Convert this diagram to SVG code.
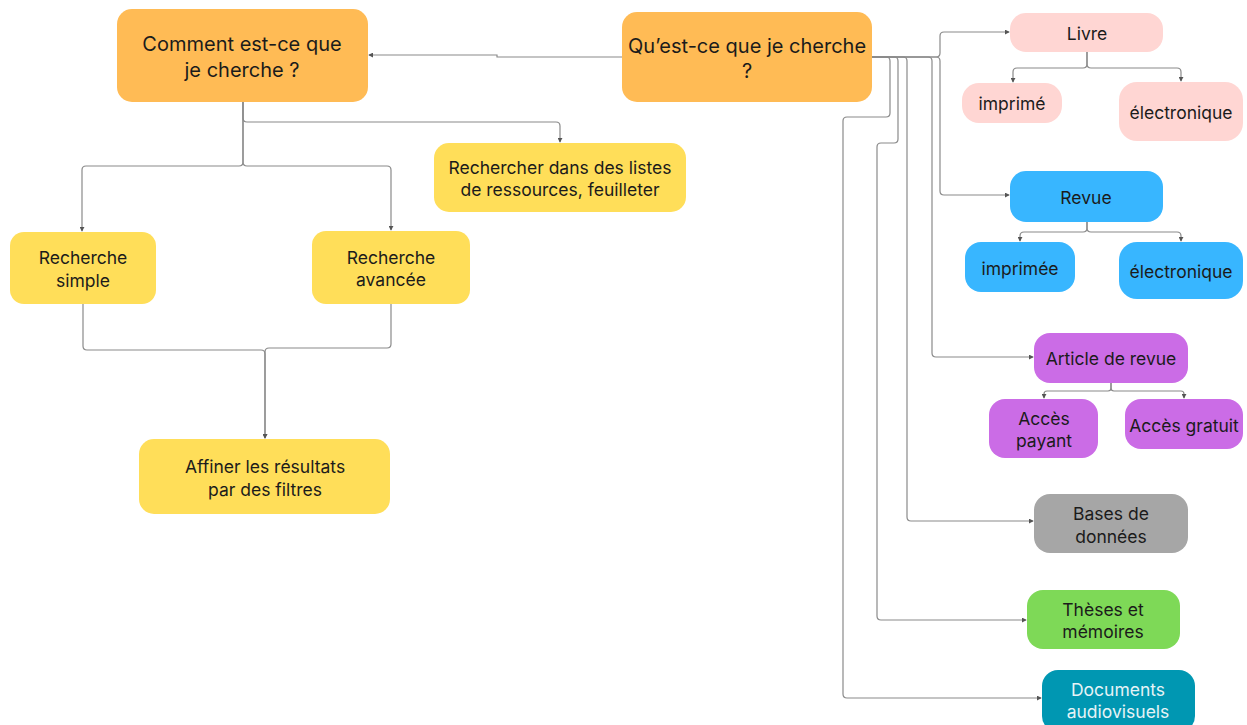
<svg xmlns="http://www.w3.org/2000/svg" width="1247" height="725" viewBox="0 0 1247 725">
<style>
text{font-family:Inter,"Noto Sans","Liberation Sans",sans-serif;fill:#1b1b1b;text-anchor:middle;dominant-baseline:central;font-size:17.5px}
.big{font-size:20px}
.c{fill:none;stroke:#8a8a8a;stroke-width:1.2}
.orange{fill:#FFBB55}.yellow{fill:#FFDE59}.pink{fill:#FFD6D3}.blue{fill:#38B6FF}.purple{fill:#CB6CE6}.gray{fill:#A6A6A6}.green{fill:#7ED957}.teal{fill:#0097B2}
</style>
<defs>
<marker id="a" viewBox="0 0 6 6" refX="5" refY="3" markerWidth="5" markerHeight="5" orient="auto-start-reverse" markerUnits="userSpaceOnUse"><path d="M0,0 L6,3 L0,6 Z" fill="#555"/></marker>
</defs>
<g id="connectors">
<path class="c" marker-end="url(#a)" d="M622,57 H497 V55 H369"/>
<path class="c" marker-end="url(#a)" d="M243,102 V118 Q243,122 247,122 H556 Q560,122 560,126 V142"/>
<path class="c" marker-end="url(#a)" d="M243,102 V162 Q243,166 239,166 H86 Q82,166 82,170 V231"/>
<path class="c" marker-end="url(#a)" d="M243,102 V162 Q243,166 247,166 H387 Q391,166 391,170 V230"/>
<path class="c" marker-end="url(#a)" d="M83,304 V346 Q83,350 87,350 H261 Q265,350 265,354 V438"/>
<path class="c" marker-end="url(#a)" d="M391,304 V344 Q391,348 387,348 H269 Q265,348 265,352 V438"/>
<path class="c" marker-end="url(#a)" d="M872,57 H936 Q940,57 940,53 V36 Q940,32 944,32 H1009"/>
<path class="c" marker-end="url(#a)" d="M872,57 H936 Q940,57 940,61 V191 Q940,195 944,195 H1009"/>
<path class="c" marker-end="url(#a)" d="M872,57 H928 Q932,57 932,61 V353 Q932,357 936,357 H1033"/>
<path class="c" marker-end="url(#a)" d="M872,57 H903 Q907,57 907,61 V517 Q907,521 911,521 H1033"/>
<path class="c" marker-end="url(#a)" d="M872,57 H894 Q898,57 898,61 V139 Q898,143 894,143 H881 Q877,143 877,147 V616 Q877,620 881,620 H1026"/>
<path class="c" marker-end="url(#a)" d="M872,57 H886 Q890,57 890,61 V113 Q890,117 886,117 H847 Q843,117 843,121 V694 Q843,698 847,698 H1041"/>
<path class="c" marker-end="url(#a)" d="M1087,52 V64 Q1087,68 1083,68 H1017 Q1013,68 1013,72 V82"/>
<path class="c" marker-end="url(#a)" d="M1087,52 V64 Q1087,68 1091,68 H1177 Q1181,68 1181,72 V81"/>
<path class="c" marker-end="url(#a)" d="M1087,222 V228 Q1087,232 1083,232 H1024 Q1020,232 1020,236 V241"/>
<path class="c" marker-end="url(#a)" d="M1087,222 V228 Q1087,232 1091,232 H1177 Q1181,232 1181,236 V241"/>
<path class="c" marker-end="url(#a)" d="M1111,383 V388 Q1111,391 1108,391 H1047 Q1044,391 1044,394 V398"/>
<path class="c" marker-end="url(#a)" d="M1111,383 V388 Q1111,391 1114,391 H1181 Q1184,391 1184,394 V398"/>
</g>
<g id="comment"><rect class="orange" x="117" y="9" width="251" height="93" rx="15"/><text class="big" x="242" y="44">Comment est-ce que</text><text class="big" x="242" y="70">je cherche ?</text></g>
<g id="questce"><rect class="orange" x="622" y="12" width="250" height="90" rx="15"/><text class="big" x="747" y="46">Qu’est-ce que je cherche</text><text class="big" x="747" y="71">?</text></g>
<g id="rechercher"><rect class="yellow" x="434" y="143" width="252" height="69" rx="15"/><text x="560" y="167">Rechercher dans des listes</text><text x="560" y="189">de ressources, feuilleter</text></g>
<g id="simple"><rect class="yellow" x="10" y="232" width="146" height="72" rx="14"/><text x="83" y="257">Recherche</text><text x="83" y="280">simple</text></g>
<g id="avancee"><rect class="yellow" x="312" y="231" width="158" height="73" rx="14"/><text x="391" y="257">Recherche</text><text x="391" y="279">avancée</text></g>
<g id="affiner"><rect class="yellow" x="139" y="439" width="251" height="75" rx="15"/><text x="265" y="466">Affiner les résultats</text><text x="265" y="489">par des filtres</text></g>
<g id="livre"><rect class="pink" x="1010" y="13" width="153" height="39" rx="16"/><text x="1087" y="33">Livre</text></g>
<g id="livre-imprime"><rect class="pink" x="962" y="83" width="100" height="40" rx="17"/><text x="1012" y="103">imprimé</text></g>
<g id="livre-electronique"><rect class="pink" x="1119" y="82" width="124" height="59" rx="18"/><text x="1181" y="112">électronique</text></g>
<g id="revue"><rect class="blue" x="1010" y="171" width="153" height="51" rx="16"/><text x="1086" y="197">Revue</text></g>
<g id="revue-imprimee"><rect class="blue" x="965" y="242" width="110" height="50" rx="16"/><text x="1020" y="268">imprimée</text></g>
<g id="revue-electronique"><rect class="blue" x="1119" y="242" width="124" height="57" rx="18"/><text x="1181" y="271">électronique</text></g>
<g id="article"><rect class="purple" x="1034" y="333" width="154" height="50" rx="16"/><text x="1111" y="358">Article de revue</text></g>
<g id="payant"><rect class="purple" x="989" y="399" width="109" height="59" rx="16"/><text x="1044" y="418">Accès</text><text x="1044" y="440">payant</text></g>
<g id="gratuit"><rect class="purple" x="1125" y="399" width="118" height="50" rx="16"/><text x="1184" y="425">Accès gratuit</text></g>
<g id="bases"><rect class="gray" x="1034" y="494" width="154" height="59" rx="16"/><text x="1111" y="513">Bases de</text><text x="1111" y="536">données</text></g>
<g id="theses"><rect class="green" x="1027" y="590" width="153" height="59" rx="16"/><text x="1103" y="609">Thèses et</text><text x="1103" y="631">mémoires</text></g>
<g id="documents"><rect class="teal" x="1042" y="670" width="153" height="62" rx="16"/><text x="1118" y="689" style="fill:#E6F3F6">Documents</text><text x="1118" y="711" style="fill:#E6F3F6">audiovisuels</text></g>
</svg>
